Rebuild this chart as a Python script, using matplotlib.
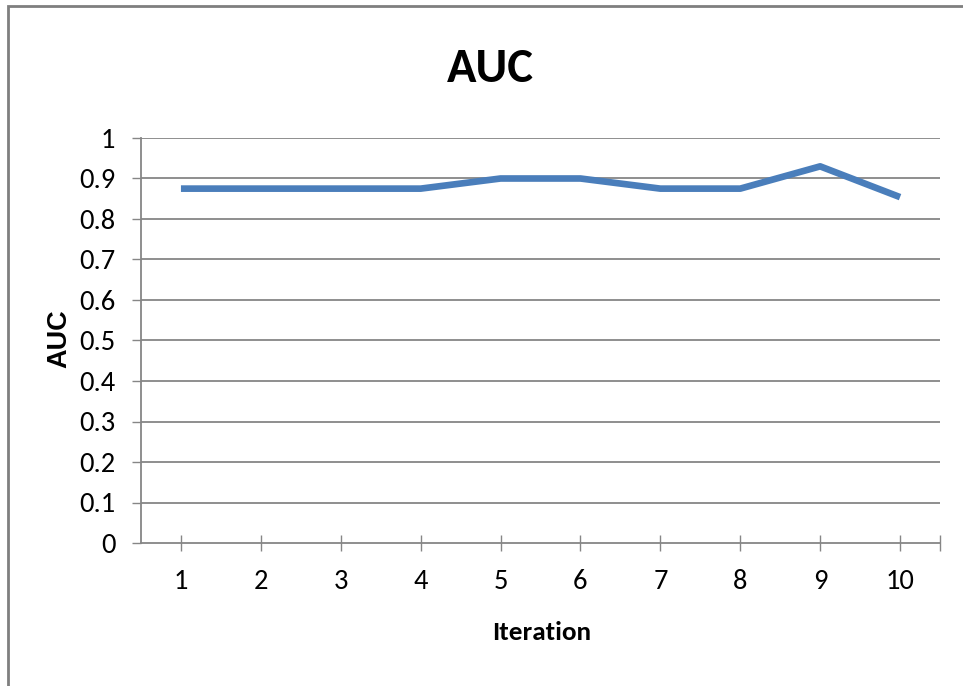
import matplotlib
matplotlib.use("Agg")
import matplotlib.pyplot as plt
from matplotlib import font_manager
from matplotlib.patches import Rectangle

# AUC per training iteration
iterations = [1, 2, 3, 4, 5, 6, 7, 8, 9, 10]
auc = [0.875, 0.875, 0.875, 0.875, 0.9, 0.9, 0.875, 0.875, 0.93, 0.854]
y_ticks = [0, 0.1, 0.2, 0.3, 0.4, 0.5, 0.6, 0.7, 0.8, 0.9, 1.0]
y_labels = ["0", "0.1", "0.2", "0.3", "0.4", "0.5", "0.6", "0.7", "0.8", "0.9", "1"]

W, H, DPI = 963, 686, 100

# pick a Calibri-like narrow face from what is installed
available = {f.name for f in font_manager.fontManager.ttflist}
preferred = ["Carlito", "Liberation Sans Narrow", "Open Sans Condensed",
             "Roboto Condensed", "Fira Sans Condensed", "PT Sans Narrow",
             "Archivo Narrow", "Asap Condensed", "Sofia Sans Semi Condensed"]
narrow_face = next((f for f in preferred if f in available), "Liberation Sans")
narrow = [narrow_face, "DejaVu Sans"]
wide = ["Liberation Sans", "DejaVu Sans"]
grey = "#868686"
blue = "#4A7EBB"

fig = plt.figure(figsize=(W / DPI, H / DPI), dpi=DPI)
fig.patch.set_facecolor("white")

# chart frame (runs past the right and bottom edges)
fig.patches.append(Rectangle((8 / W, -0.05), 1.1, 1 - 6 / H + 0.05,
                             transform=fig.transFigure, fill=False,
                             edgecolor="#7F7F7F", linewidth=2.0))

ax = fig.add_axes([141 / W, 1 - 543 / H, (940 - 141) / W, (543 - 138) / H])
ax.plot(iterations, auc, color=blue, linewidth=4.8, solid_capstyle="butt",
        solid_joinstyle="round", zorder=3)

ax.set_xlim(0.5, 10.5)
ax.set_ylim(0, 1)
ax.set_yticks(y_ticks)
ax.set_yticklabels(y_labels, family=narrow, fontsize=20.5)
ax.set_xticks(iterations + [10.5])
ax.set_xticklabels([str(i) for i in iterations] + [""], family=narrow, fontsize=20.5)

for y in y_ticks[1:]:
    ax.axhline(y, color=grey, linewidth=1.3, zorder=1)

for side in ("top", "right"):
    ax.spines[side].set_visible(False)
for side in ("left", "bottom"):
    ax.spines[side].set_color(grey)
    ax.spines[side].set_linewidth(1.3)

ax.tick_params(axis="y", direction="out", length=6.5, width=1.0, color=grey, pad=12)
ax.tick_params(axis="x", direction="inout", length=12, width=1.0, color=grey, pad=13)

fig.text(490 / W, 1 - 82 / H, "AUC", family=narrow, fontweight="bold",
         fontsize=35, ha="center", va="baseline")
fig.text(542 / W, 1 - 640 / H, "Iteration", family=narrow, fontweight="bold",
         fontsize=19.5, ha="center", va="baseline")
fig.text(59 / W, 1 - 339 / H, "AUC", family=wide, fontweight="bold",
         fontsize=19.5, ha="center", va="center", rotation=90)

fig.savefig("out.png", dpi=DPI)
